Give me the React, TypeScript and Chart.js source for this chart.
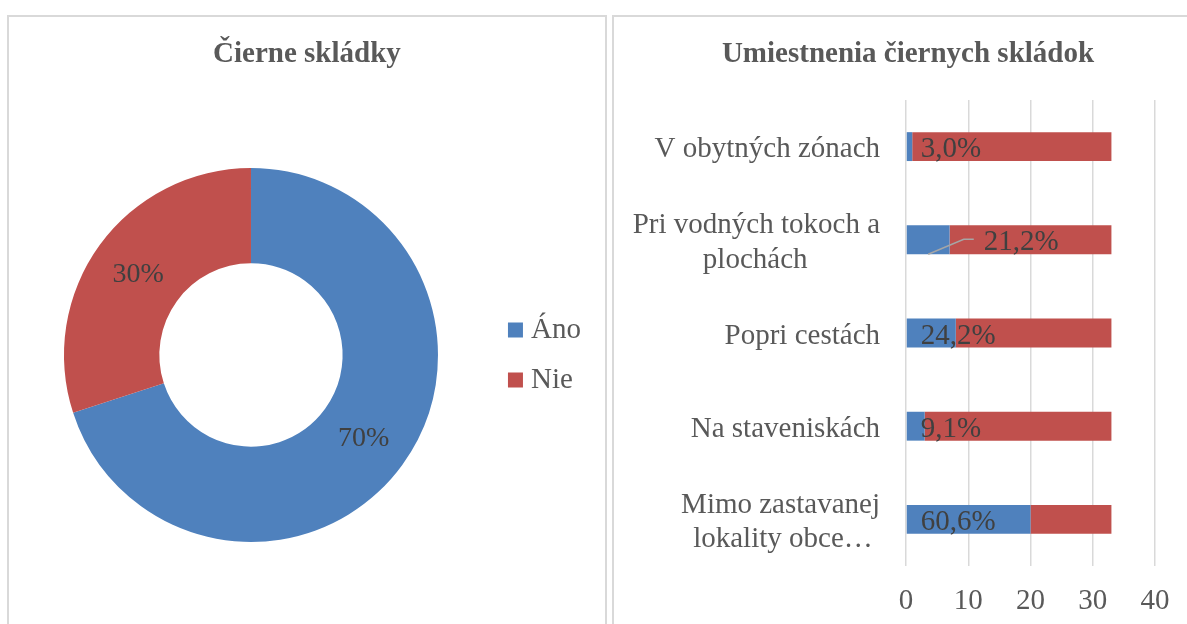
import { useEffect, useRef } from "react";
import { Chart, registerables } from "chart.js";

Chart.register(...registerables);

// ---------- data ----------
const donutTitle = "Čierne skládky";
const donutLabels = ["Áno", "Nie"];
const donutValues = [70, 30];

const barTitle = "Umiestnenia čiernych skládok";
const barCategories: string[][] = [
  ["V obytných zónach"],
  ["Pri vodných tokoch a", "plochách"],
  ["Popri cestách"],
  ["Na staveniskách"],
  ["Mimo zastavanej", "lokality obce…"],
];
const seriesNames = ["Áno", "Nie"];
const anoValues = [1, 7, 8, 3, 20];
const nieValues = [32, 26, 25, 30, 13];
const xTicks = [0, 10, 20, 30, 40];

// ---------- style ----------
const BLUE = "#4F81BD";
const RED = "#C0504D";
const FONT = "'Liberation Serif', 'Times New Roman', serif";
const TEXT = "#595959";
const LABEL = "#404040";
const GRID = "#D9D9D9";

function centerLines(lines: string[], font: string): string | string[] {
  if (lines.length < 2) return lines[0];
  const c = document.createElement("canvas").getContext("2d")!;
  c.font = font;
  const widths = lines.map((l) => c.measureText(l).width);
  const max = Math.max(...widths);
  const sp = c.measureText("\u00A0").width || 7;
  return lines.map((l, i) => l + "\u00A0".repeat(Math.round((max - widths[i]) / 2 / sp)));
}

const donutLabelPlugin = {
  id: "donutLabels",
  afterDatasetsDraw(chart: any) {
    const { ctx } = chart;
    const meta = chart.getDatasetMeta(0);
    const data = chart.data.datasets[0].data;
    ctx.save();
    ctx.font = `28px ${FONT}`;
    ctx.fillStyle = LABEL;
    ctx.textAlign = "center";
    ctx.textBaseline = "middle";
    meta.data.forEach((arc: any, i: number) => {
      const p = arc.tooltipPosition(false);
      ctx.fillText(`${data[i]}%`, p.x, p.y + 2);
    });
    ctx.restore();
  },
};

const barLabelPlugin = {
  id: "barLabels",
  afterDatasetsDraw(chart: any, _args: any, opts: any) {
    const { ctx } = chart;
    const meta = chart.getDatasetMeta(0);
    const a = chart.data.datasets[0].data;
    const b = chart.data.datasets[1].data;
    ctx.save();
    ctx.font = `29px ${FONT}`;
    ctx.textAlign = "left";
    ctx.textBaseline = "middle";
    meta.data.forEach((bar: any, i: number) => {
      const pct = ((a[i] / (a[i] + b[i])) * 100).toFixed(1).replace(".", ",") + "%";
      let x = bar.base + opts.inset;
      const y = bar.y + 3;
      if (i === opts.leaderIndex) {
        x += opts.leaderDx;
        ctx.strokeStyle = "#A6A6A6";
        ctx.lineWidth = 1.5;
        ctx.beginPath();
        ctx.moveTo((bar.base + bar.x) / 2, bar.y + bar.height / 2);
        ctx.lineTo(x - 20, bar.y - 0.5);
        ctx.lineTo(x - 10, bar.y - 0.5);
        ctx.stroke();
      }
      ctx.fillStyle = LABEL;
      ctx.fillText(pct, x, y);
    });
    ctx.restore();
  },
};

export default function App() {
  const leftRef = useRef<HTMLCanvasElement>(null);
  const rightRef = useRef<HTMLCanvasElement>(null);

  useEffect(() => {
    const donut = new Chart(leftRef.current!, {
      type: "doughnut",
      data: {
        labels: donutLabels,
        datasets: [{ data: donutValues, backgroundColor: [BLUE, RED], borderWidth: 0 }],
      },
      options: {
        animation: false,
        responsive: false,
        cutout: "49%",
        layout: { padding: { left: 8.5, right: 1.6, top: 0, bottom: 82 } },
        plugins: {
          title: {
            display: true,
            text: donutTitle,
            color: TEXT,
            font: { family: FONT, size: 29, weight: "bold" },
            padding: { top: 20, bottom: 96.2 },
          },
          legend: {
            position: "right",
            fullSize: false,
            labels: {
              usePointStyle: true,
              pointStyle: "rect",
              boxWidth: 2,
              boxHeight: 15,
              padding: 21,
              color: TEXT,
              font: { family: FONT, size: 29 },
              generateLabels: (chart: any) =>
                Chart.overrides.doughnut.plugins.legend.labels
                  .generateLabels(chart)
                  .map((it: any) => ({ ...it, text: it.text + "\u00A0\u00A0" })),
            },
          },
          tooltip: { enabled: false },
        },
      } as any,
      plugins: [donutLabelPlugin],
    });

    const tickFont = `29px ${FONT}`;
    const bars = new Chart(rightRef.current!, {
      type: "bar",
      data: {
        labels: barCategories.map((l) => centerLines(l, tickFont)),
        datasets: [
          { label: seriesNames[0], data: anoValues, backgroundColor: BLUE, barPercentage: 0.31, categoryPercentage: 1 },
          { label: seriesNames[1], data: nieValues, backgroundColor: RED, barPercentage: 0.31, categoryPercentage: 1 },
        ],
      },
      options: {
        indexAxis: "y",
        animation: false,
        responsive: false,
        layout: { padding: { left: 0, right: 34, top: 0, bottom: 0 } },
        scales: {
          x: {
            stacked: true,
            min: xTicks[0],
            max: xTicks[xTicks.length - 1],
            afterBuildTicks: (s: any) => {
              s.ticks = xTicks.map((v) => ({ value: v }));
            },
            ticks: { color: TEXT, font: { family: FONT, size: 29 }, padding: 18 },
            grid: { color: GRID, lineWidth: 1.5, drawTicks: false },
            border: { display: false },
            afterFit: (s: any) => {
              s.height = 58;
            },
          },
          y: {
            stacked: true,
            grid: { display: false, drawTicks: false },
            border: { display: false },
            ticks: { color: TEXT, font: { family: FONT, size: 29 }, padding: 26, labelOffset: 3 },
            afterFit: (s: any) => {
              s.width = 291;
              s.paddingTop = 0;
              s.paddingBottom = 0;
            },
          },
          y2: {
            type: "linear",
            position: "right",
            display: true,
            grid: { display: false, drawTicks: false },
            border: { display: false },
            ticks: { display: false },
            afterFit: (s: any) => {
              s.width = 46;
              s.paddingTop = 0;
              s.paddingBottom = 0;
            },
          },
        },
        plugins: {
          title: {
            display: true,
            text: barTitle,
            color: TEXT,
            font: { family: FONT, size: 29, weight: "bold" },
            padding: { top: 20, bottom: 28.2 },
          },
          legend: { display: false },
          tooltip: { enabled: false },
          barLabels: { inset: 14, leaderIndex: 1, leaderDx: 63 },
        },
      } as any,
      plugins: [barLabelPlugin],
    });

    return () => {
      donut.destroy();
      bars.destroy();
    };
  }, []);

  const panel: React.CSSProperties = {
    position: "absolute",
    top: 15,
    width: 600,
    height: 640,
    border: `2px solid ${GRID}`,
    boxSizing: "border-box",
    background: "#fff",
  };

  return (
    <div style={{ position: "fixed", inset: 0, overflow: "hidden", background: "#fff" }}>
      <div style={{ ...panel, left: 7 }} />
      <div style={{ ...panel, left: 612 }} />
      <canvas ref={leftRef} width={607} height={607} style={{ position: "absolute", left: 0, top: 17 }} />
      <canvas ref={rightRef} width={620} height={607} style={{ position: "absolute", left: 615, top: 17 }} />
    </div>
  );
}
